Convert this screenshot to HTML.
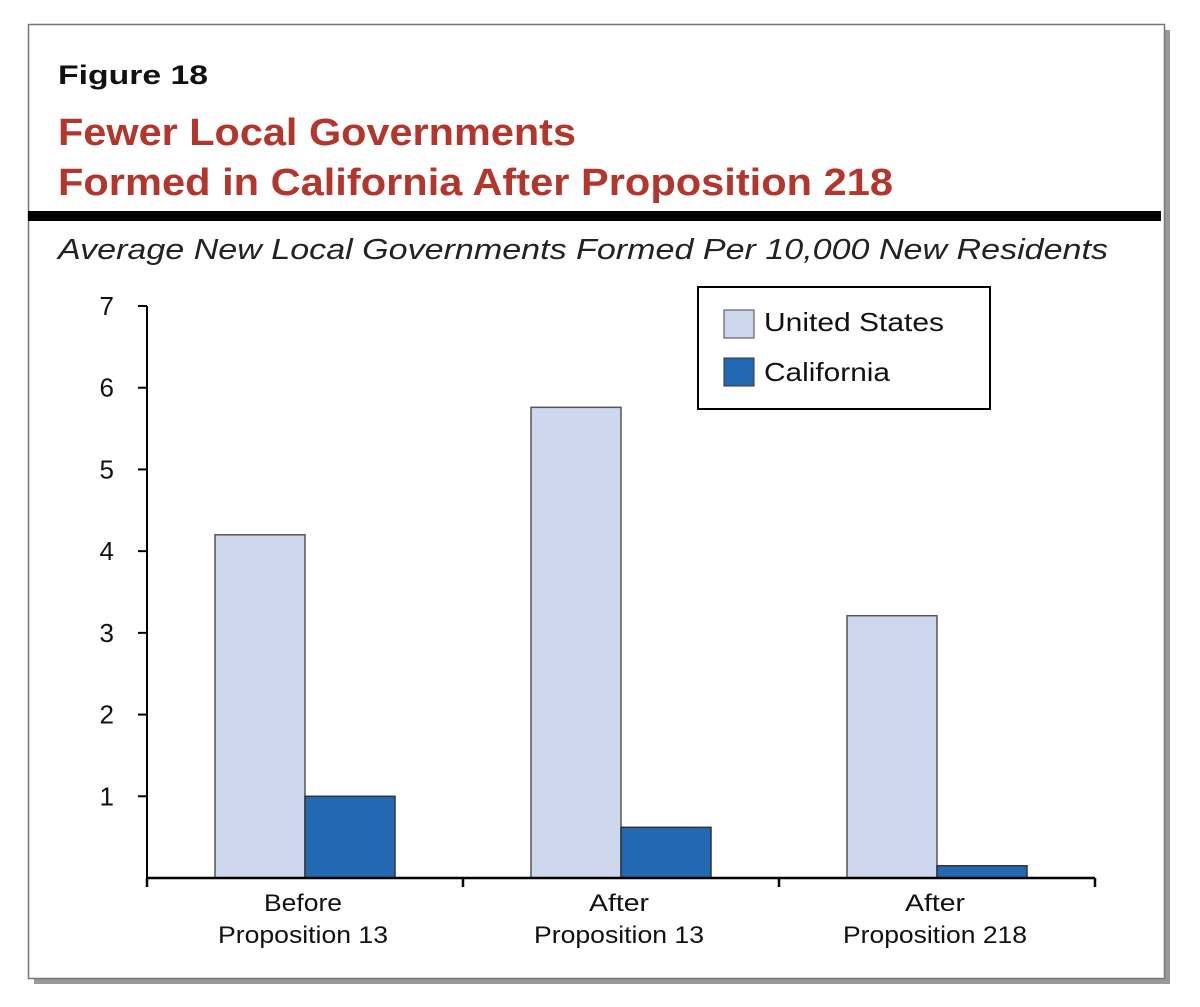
<!DOCTYPE html>
<html><head><meta charset="utf-8"><style>
body{margin:0;background:#fff;}
svg{display:block;font-family:"Liberation Sans",Arial,sans-serif;}
</style></head><body>
<svg width="1200" height="1007" viewBox="0 0 1200 1007">
<rect x="34" y="30" width="1136" height="954" fill="#999"/>
<rect x="28.5" y="24.5" width="1136" height="954" fill="#fff" stroke="#777" stroke-width="1.5"/>
<text x="58" y="84" font-size="27" font-weight="bold" fill="#111" textLength="150" lengthAdjust="spacingAndGlyphs">Figure 18</text>
<text x="58" y="145" font-size="38" font-weight="bold" fill="#b3362c" textLength="518" lengthAdjust="spacingAndGlyphs">Fewer Local Governments</text>
<text x="58" y="195" font-size="38" font-weight="bold" fill="#b3362c" textLength="835" lengthAdjust="spacingAndGlyphs">Formed in California After Proposition 218</text>
<rect x="28" y="211" width="1133" height="10" fill="#000"/>
<text x="58" y="259" font-size="29" font-style="italic" fill="#222" textLength="1050" lengthAdjust="spacingAndGlyphs">Average New Local Governments Formed Per 10,000 New Residents</text>
<g id="chart"></g>
<g>
<rect x="698" y="287" width="292" height="122" fill="#fff" stroke="#000" stroke-width="2"/>
<rect x="724" y="310" width="30" height="28" fill="#cdd8ee" stroke="#444"/>
<text x="764" y="331" font-size="26" fill="#111" textLength="180" lengthAdjust="spacingAndGlyphs">United States</text>
<rect x="724" y="358" width="30" height="28" fill="#2368b3" stroke="#333"/>
<text x="764" y="381" font-size="26" fill="#111" textLength="126" lengthAdjust="spacingAndGlyphs">California</text>
</g>
</svg>
<script>
const categories=[["Before","Proposition 13"],["After","Proposition 13"],["After","Proposition 218"]];
const usValues=[4.2,5.76,3.21];
const caValues=[1.0,0.62,0.15];
const yTicks=[1,2,3,4,5,6,7];
const NS="http://www.w3.org/2000/svg";
const g=document.getElementById('chart');
const x0=147,x1=1095,yZero=878,yTop=306,yMax=7;
const y=v=>yZero-(yZero-yTop)*v/yMax;
const bandW=(x1-x0)/categories.length;
const widthOf={"Before":78,"After":60,"Proposition 13":170,"Proposition 218":184};
function mk(tag,attrs,parent){const e=document.createElementNS(NS,tag);for(const k in attrs)e.setAttribute(k,attrs[k]);(parent||g).appendChild(e);return e;}
categories.forEach((c,i)=>{
  const cx=x0+bandW*(i+0.5);
  const bw=90;
  const r1=mk('rect',{x:cx-bw,y:y(usValues[i]),width:bw,height:yZero-y(usValues[i]),fill:'#cdd8ee',stroke:'#555','stroke-width':1.5});
  
  
  const r2=mk('rect',{x:cx,y:y(caValues[i]),width:bw,height:yZero-y(caValues[i]),fill:'#2368b3',stroke:'#333','stroke-width':1.5});
  
  
  c.forEach((line,j)=>{
    const t=mk('text',{x:cx-2,y:911+j*32,'font-size':24,'text-anchor':'middle',fill:'#111'});
    t.textContent=line;
    t.setAttribute('textLength',widthOf[line]||line.length*11.6);
    t.setAttribute('lengthAdjust','spacingAndGlyphs');
    
    
  });
});
const ya=mk('line',{x1:x0,y1:yTop,x2:x0,y2:yZero,stroke:'#000','stroke-width':2});


const xa=mk('line',{x1:x0,y1:yZero,x2:x1,y2:yZero,stroke:'#000','stroke-width':2.5});


for(let i=0;i<=categories.length;i++){
  const xt=x0+bandW*i;
  const tk=mk('line',{x1:xt,y1:yZero,x2:xt,y2:yZero+9,stroke:'#000','stroke-width':2.5});
  
  
}
yTicks.forEach(v=>{
  const tk=mk('line',{x1:x0-9,y1:y(v),x2:x0,y2:y(v),stroke:'#000','stroke-width':2});
  
  
  const t=mk('text',{x:114,y:y(v)+9,'font-size':26,'text-anchor':'end',fill:'#111'});
  t.textContent=v;
  
  
});
</script>
</body></html>
